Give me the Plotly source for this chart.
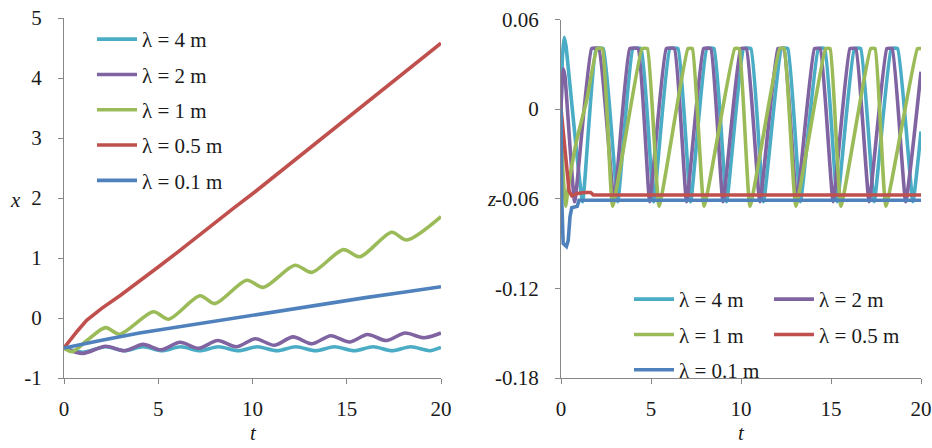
import plotly.graph_objects as go

W, H = 932, 448

NAMES = ["λ = 4 m", "λ = 2 m", "λ = 1 m", "λ = 0.5 m", "λ = 0.1 m"]
COLORS = ["#4BACC6", "#8064A2", "#9BBB59", "#C0504D", "#4F81BD"]

# ---- horizontal displacement x(t) ----
t_x4 = [0, 1.0, 2.2, 3.2, 4.2, 5.2, 6.2, 7.2, 8.2, 9.25, 10.25, 11.3, 12.3,
        13.35, 14.35, 15.4, 16.4, 17.4, 18.4, 19.4, 20]
x_4 = [-0.5, -0.57, -0.48, -0.545, -0.48, -0.545, -0.48, -0.545, -0.48, -0.545,
       -0.48, -0.545, -0.48, -0.545, -0.48, -0.545, -0.48, -0.545, -0.48, -0.545, -0.49]

t_x2 = [0, 1.0, 2.2, 3.2, 4.2, 5.15, 6.15, 7.15, 8.15, 9.15, 10.15, 11.15, 12.15,
        13.15, 14.15, 15.15, 16.1, 17.1, 18.1, 19.1, 20]
x_2 = [-0.5, -0.59, -0.47, -0.545, -0.44, -0.53, -0.405, -0.505, -0.375, -0.48,
       -0.345, -0.455, -0.315, -0.43, -0.295, -0.40, -0.275, -0.375, -0.25, -0.33, -0.25]

t_x1 = [0, 0.45, 1.2, 2.2, 2.95, 4.74, 5.55, 7.21, 8.0, 9.69, 10.57, 12.25, 13.14,
        14.82, 15.7, 17.38, 18.18, 20]
x_1 = [-0.5, -0.56, -0.38, -0.16, -0.27, 0.105, -0.02, 0.37, 0.24, 0.63, 0.51, 0.88,
       0.76, 1.14, 1.02, 1.43, 1.3, 1.69]

t_x05 = [0, 0.2, 0.4, 0.7, 1.2, 2, 3, 4, 5, 6, 7, 8, 9, 10, 11, 12, 13, 14, 15, 16,
         17, 18, 19, 20]
x_05 = [-0.5, -0.42, -0.33, -0.22, -0.04, 0.16, 0.38, 0.61, 0.85, 1.09, 1.34, 1.58,
        1.83, 2.07, 2.32, 2.57, 2.82, 3.07, 3.32, 3.57, 3.83, 4.08, 4.33, 4.58]

t_x01 = [0, 1, 2, 4, 6, 8, 10, 12, 14, 16, 18, 20]
x_01 = [-0.5, -0.43, -0.37, -0.25, -0.15, -0.05, 0.05, 0.15, 0.25, 0.34, 0.43, 0.52]

# ---- vertical displacement z(t) ----
t_z4 = [0, 0.08, 0.18, 0.28, 1.2, 1.95, 2.35, 3.15, 4.0, 4.45, 5.15, 6.05, 6.5, 7.2,
        8.1, 8.5, 9.2, 10.15, 10.55, 11.25, 12.25, 12.6, 13.3, 14.3, 14.65, 15.35,
        16.3, 16.65, 17.4, 18.35, 18.7, 19.55, 20]
z_4 = [0, 0.035, 0.048, 0.042, -0.062,
       0.0405, 0.0405, -0.062, 0.0405, 0.0405, -0.062, 0.0405, 0.0405, -0.062,
       0.0405, 0.0405, -0.062, 0.0405, 0.0405, -0.062, 0.0405, 0.0405, -0.062,
       0.0405, 0.0405, -0.062, 0.0405, 0.0405, -0.062, 0.0405, 0.0405, -0.062,
       -0.015]

t_z2 = [0, 0.05, 0.12, 0.22, 0.76, 1.7, 2.1, 2.95, 3.82, 4.28, 4.93, 5.85, 6.3, 6.98,
        7.92, 8.32, 9.0, 9.98, 10.3, 11.05, 12.05, 12.38, 13.1, 14.08, 14.4, 15.12,
        16.05, 16.38, 17.12, 18.1, 18.4, 19.15, 20]
z_2 = [0, 0.016, 0.027, 0.022, -0.062,
       0.0405, 0.0405, -0.062, 0.0405, 0.0405, -0.062, 0.0405, 0.0405, -0.062,
       0.0405, 0.0405, -0.062, 0.0405, 0.0405, -0.062, 0.0405, 0.0405, -0.062,
       0.0405, 0.0405, -0.062, 0.0405, 0.0405, -0.062, 0.0405, 0.0405, -0.062,
       0.025]

t_z1 = [0, 0.1, 0.25, 0.5, 0.87, 1.43, 2.0, 2.3, 2.87, 4.5, 4.8, 5.45, 7.05, 7.3,
        7.95, 9.65, 9.9, 10.5, 12.15, 12.4, 13.05, 14.7, 14.95, 15.55, 17.2, 17.45,
        18.05, 19.8, 20]
z_1 = [0, -0.04, -0.065, -0.045, -0.021, 0.006,
       0.0405, 0.0405, -0.065, 0.0405, 0.0405, -0.065, 0.0405, 0.0405, -0.065,
       0.0405, 0.0405, -0.065, 0.0405, 0.0405, -0.065, 0.0405, 0.0405, -0.065,
       0.0405, 0.0405, -0.065, 0.0405, 0.0405]

t_z05 = [0, 0.15, 0.3, 0.45, 0.6, 0.9, 1.3, 1.65, 1.8, 20]
z_05 = [0, -0.018, -0.038, -0.055, -0.058, -0.0565, -0.0558, -0.0558, -0.0575, -0.0575]

t_z01 = [0, 0.04, 0.12, 0.3, 0.4, 0.5, 0.6, 0.9, 1.0, 20]
z_01 = [0, -0.06, -0.09, -0.092, -0.088, -0.072, -0.066, -0.065, -0.061, -0.061]

X_TICKS = [0, 5, 10, 15, 20]
XL_TICKS = [-1, 0, 1, 2, 3, 4, 5]
XL_TICK_TEXT = ["-1", "0", "1", "2", "3", "4", "5"]
Z_TICKS = [-0.18, -0.12, -0.06, 0, 0.06]
Z_TICK_TEXT = ["-0.18", "-0.12", "-0.06", "0", "0.06"]

left_series = [(t_x4, x_4), (t_x2, x_2), (t_x1, x_1), (t_x05, x_05), (t_x01, x_01)]
left_shapes = ["spline", "spline", "spline", "linear", "linear"]
right_series = [(t_z4, z_4), (t_z2, z_2), (t_z1, z_1), (t_z05, z_05), (t_z01, z_01)]
right_shapes = ["spline", "spline", "spline", "linear", "linear"]
right_legend = ["legend2", "legend3", "legend2", "legend3", "legend2"]

SERIF = "Liberation Serif"
AXIS_GRAY = "#878787"
INK = "#1a1a1a"
LW = 3.6

fig = go.Figure()
for i, (t, v) in enumerate(left_series):
    fig.add_trace(go.Scatter(
        x=t, y=v, mode="lines", name=NAMES[i], xaxis="x", yaxis="y",
        line=dict(color=COLORS[i], width=LW, shape=left_shapes[i], smoothing=0.8),
        legend="legend", legendgroup="L%d" % i, hoverinfo="skip"))
for i, (t, v) in enumerate(right_series):
    fig.add_trace(go.Scatter(
        x=t, y=v, mode="lines", name=NAMES[i], xaxis="x2", yaxis="y2",
        line=dict(color=COLORS[i], width=LW, shape=right_shapes[i], smoothing=0.35),
        legend=right_legend[i], legendgroup="R%d" % i, hoverinfo="skip"))

axis_common = dict(
    showline=True, linecolor=AXIS_GRAY, linewidth=1.3, ticks="outside",
    tickcolor=AXIS_GRAY, ticklen=5, tickwidth=1.3, showgrid=False, zeroline=False,
    automargin=False, tickfont=dict(family=SERIF, size=21, color=INK),
    mirror=False,
)

L0, L1 = 64 / W, 441 / W
R0, R1 = 561 / W, 921 / W
B0 = 1 - 378 / H

legend_common = dict(
    font=dict(family=SERIF, size=21, color=INK), bgcolor="rgba(0,0,0,0)",
    borderwidth=0, itemwidth=40, traceorder="grouped", tracegroupgap=5,
    xanchor="left", yanchor="top", itemclick=False, itemdoubleclick=False,
)

fig.update_layout(
    width=W, height=H, template="none",
    paper_bgcolor="white", plot_bgcolor="white",
    margin=dict(l=0, r=0, t=0, b=0),
    showlegend=True,
    font=dict(family=SERIF, color=INK),
    xaxis=dict(domain=[L0, L1], range=[0, 20], tickvals=X_TICKS, anchor="y",
               ticklabelstandoff=7, **axis_common),
    yaxis=dict(domain=[B0, 1 - 18 / H], range=[-1, 5], tickvals=XL_TICKS,
               ticktext=XL_TICK_TEXT, anchor="x", ticklabelstandoff=12, **axis_common),
    xaxis2=dict(domain=[R0, R1], range=[0, 20], tickvals=X_TICKS, anchor="y2",
                ticklabelstandoff=7, **axis_common),
    yaxis2=dict(domain=[B0, 1 - 19.5 / H], range=[-0.18, 0.06], tickvals=Z_TICKS,
                ticktext=Z_TICK_TEXT, anchor="x2", ticklabelstandoff=12, **axis_common),
    legend=dict(x=92 / W, y=1 - 19 / H, **legend_common),
    legend2=dict(x=629 / W, y=1 - 279 / H, **legend_common),
    legend3=dict(x=769 / W, y=1 - 279 / H, **legend_common),
)

title_font = dict(family=SERIF, size=21, color=INK)
for txt, px, py in [("x", 15, 200), ("t", 253, 433), ("t", 741, 433), ("z", 491, 199)]:
    fig.add_annotation(text="<i>%s</i>" % txt, xref="paper", yref="paper",
                       x=px / W, y=1 - py / H, xanchor="center", yanchor="middle",
                       showarrow=False, font=title_font)

fig.write_html("out.html")
